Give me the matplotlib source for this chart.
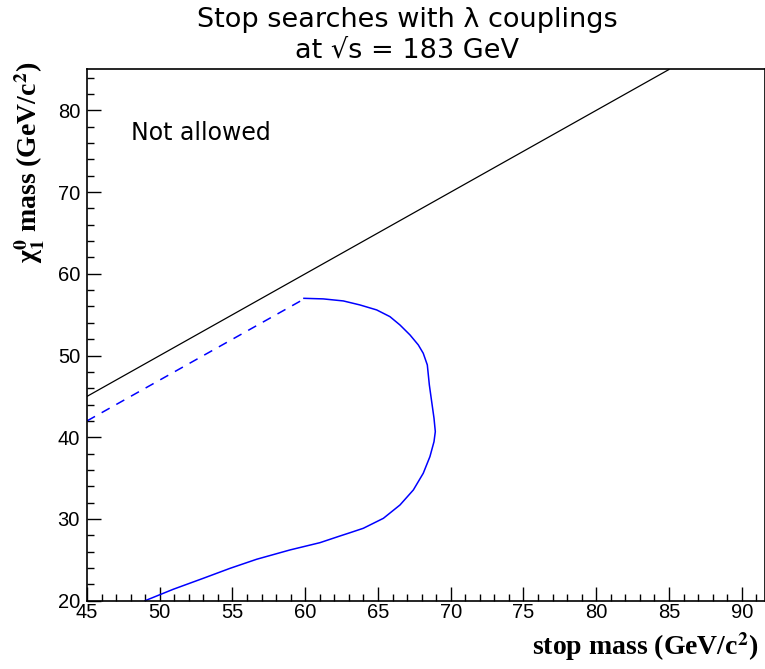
import numpy as np
import matplotlib
matplotlib.use('Agg')
import matplotlib.pyplot as plt
from matplotlib.ticker import MultipleLocator

plt.rcParams['mathtext.fontset'] = 'stix'

# kinematic limit: neutralino mass = stop mass
limit_x = [45, 85]
limit_y = [45, 85]

# extrapolated part of the excluded region edge (dashed)
dash_x = [45, 60]
dash_y = [42, 57]

# excluded region contour
excl_x = [59.91, 61.24, 62.62, 63.76, 64.91, 65.82, 66.51, 67.20, 67.77, 68.11,
          68.39, 68.53, 68.69, 68.85, 68.94, 68.85, 68.57, 68.11, 67.43, 66.51,
          65.37, 63.99, 63.08, 62.39, 61.01, 58.95, 56.66, 54.83, 52.99, 50.93,
          48.99]
excl_y = [57.0, 56.93, 56.68, 56.19, 55.58, 54.76, 53.74, 52.52, 51.30, 50.28,
          48.85, 46.40, 44.36, 42.33, 40.69, 39.46, 37.63, 35.59, 33.55, 31.71,
          30.08, 28.86, 28.32, 27.92, 27.10, 26.21, 25.07, 23.96, 22.74, 21.40,
          20.0]

fig = plt.figure(figsize=(7.65, 6.69), dpi=100)
ax = fig.add_axes([87/765, 68.3/669, 1 - 87/765, 531.2/669])

ax.plot(limit_x, limit_y, color='black', lw=0.9)
ax.plot(dash_x, dash_y, color='blue', lw=1.1, ls=(0, (6, 5)))
ax.plot(excl_x, excl_y, color='blue', lw=1.1)

ax.set_xlim(45, 91.6)
ax.set_ylim(20, 85)
ax.xaxis.set_major_locator(MultipleLocator(5))
ax.xaxis.set_minor_locator(MultipleLocator(1))
ax.yaxis.set_major_locator(MultipleLocator(10))
ax.yaxis.set_minor_locator(MultipleLocator(2))
ax.tick_params(which='both', direction='in', top=False, right=False,
               labelsize=14.5, width=1)
ax.tick_params(which='major', length=10, pad=2)
ax.tick_params(axis='y', which='major', pad=5)
ax.tick_params(which='minor', length=5)
for t in ax.get_xticklabels() + ax.get_yticklabels():
    t.set_family('Liberation Sans')
for s in ax.spines.values():
    s.set_linewidth(1.2)

ax.text(48.0, 77.2, 'Not allowed', fontsize=17, va='center', ha='left')

fig.text(407/765, 1 - 20/669, 'Stop searches with λ couplings',
         ha='center', va='center', fontsize=19.5)
fig.text(407/765, 1 - 51/669, 'at √s = 183 GeV',
         ha='center', va='center', fontsize=19.5)

lab = dict(family='Liberation Serif', fontweight='bold', fontsize=20)
fig.text(532/765, 1 - 655/669, r'stop mass (GeV/c$^{\mathbf{2}}$)',
         ha='left', va='baseline', **lab)
fig.text(30/765, 1 - 62/669,
         r'χ$_{\mathbf{1}}^{\mathbf{0}}$ mass (GeV/c$^{\mathbf{2}}$)',
         ha='center', va='top', rotation=90, **lab)

fig.savefig('out.png', dpi=100)
